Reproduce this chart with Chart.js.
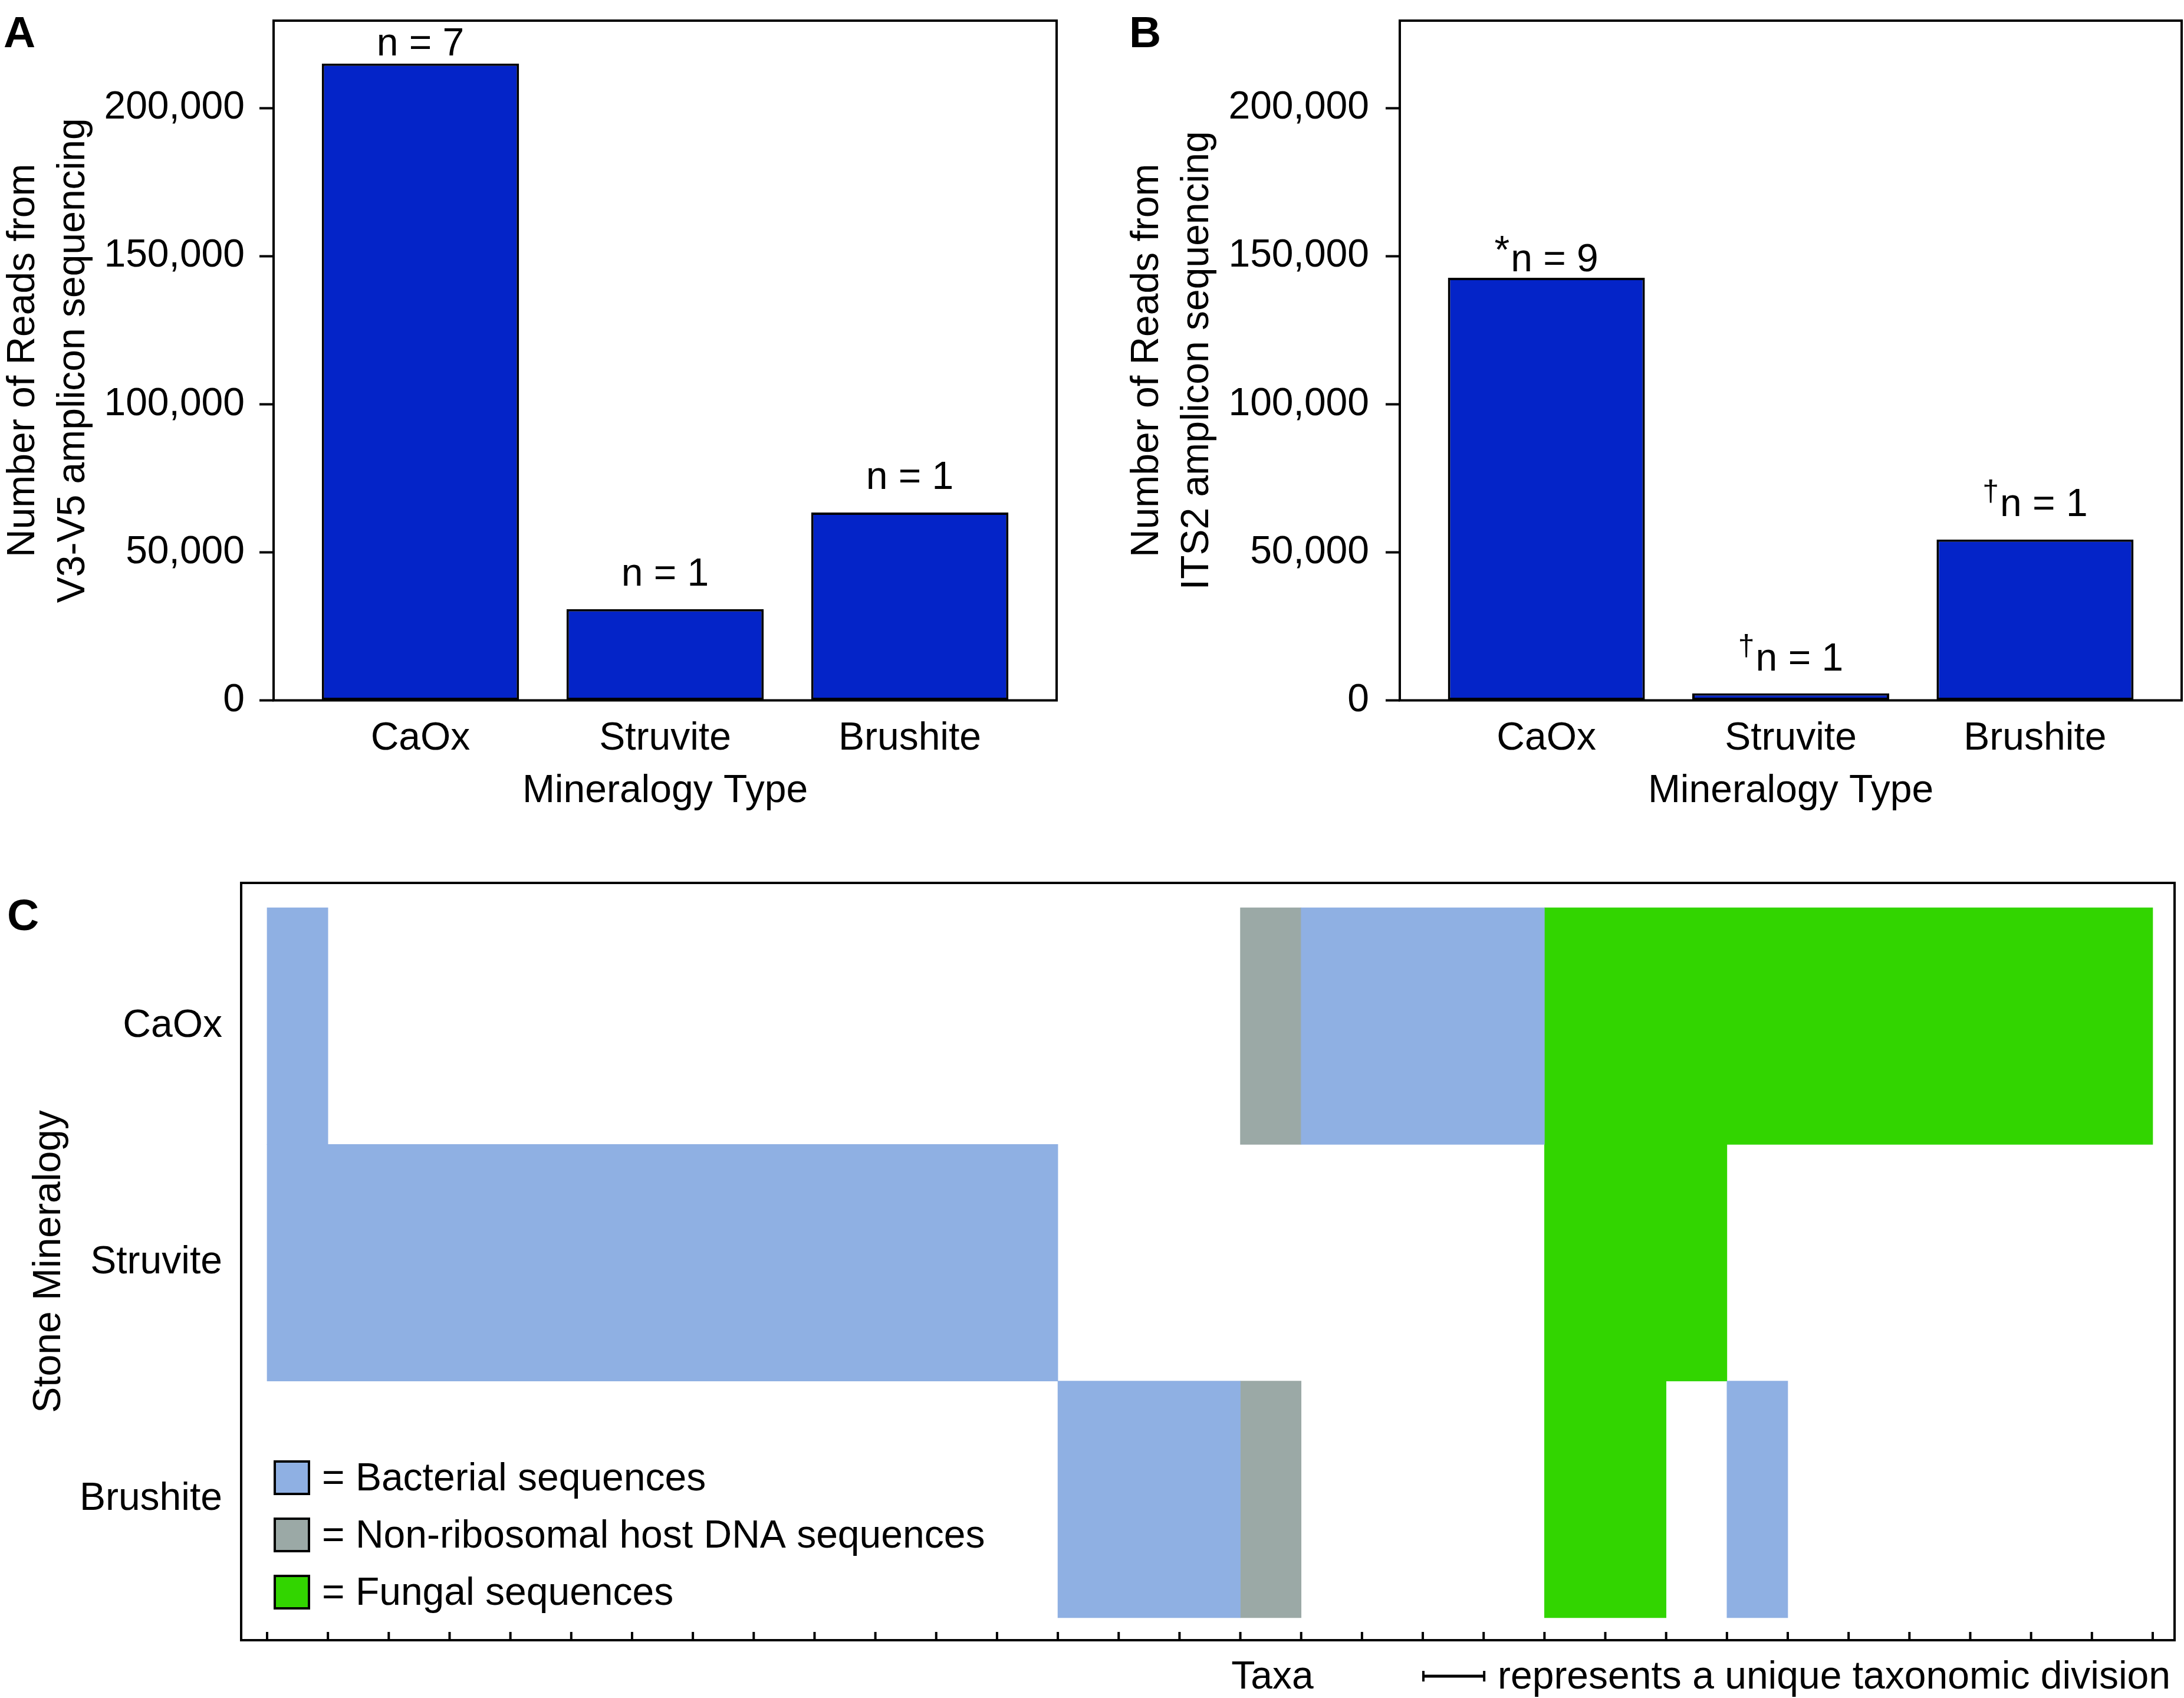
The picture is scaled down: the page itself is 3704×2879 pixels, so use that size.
<!DOCTYPE html>
<html>
<head>
<meta charset="utf-8">
<script src="https://cdn.jsdelivr.net/npm/chart.js@4.4.1/dist/chart.umd.min.js"></script>
<style>
  body { margin: 0; background: #fff; }
  #wrap { position: relative; width: 3704px; height: 2879px; background: #fff; }
  canvas { position: absolute; }
</style>
</head>
<body>
<div id="wrap">
  <canvas id="chartA" width="1850" height="1420" style="left:0;top:0"></canvas>
  <canvas id="chartB" width="1854" height="1420" style="left:1850px;top:0"></canvas>
  <canvas id="chartC" width="3704" height="1439" style="left:0;top:1440px"></canvas>
</div>
<script>
// -------------------- DATA --------------------
const minerals = ["CaOx", "Struvite", "Brushite"];

// panel A: reads from V3-V5 amplicon sequencing
const readsV3V5 = [215000, 30800, 63400];
const nV3V5 = [7, 1, 1];
const marksV3V5 = ["", "", ""];

// panel B: reads from ITS2 amplicon sequencing
const readsITS2 = [142700, 2400, 54300];
const nITS2 = [9, 1, 1];
const marksITS2 = ["*", "\u2020", "\u2020"];

const readTicks = [0, 50000, 100000, 150000, 200000];

// panel C: one code per taxon (0 = none, 1 = bacterial, 2 = host DNA, 3 = fungal)
const taxaCaOx     = [1,0,0,0,0,0,0,0,0,0,0,0,0,0,0,0,2,1,1,1,1,3,3,3,3,3,3,3,3,3,3];
const taxaStruvite = [1,1,1,1,1,1,1,1,1,1,1,1,1,0,0,0,0,0,0,0,0,3,3,3,0,0,0,0,0,0,0];
const taxaBrushite = [0,0,0,0,0,0,0,0,0,0,0,0,0,1,1,1,2,0,0,0,0,3,3,0,1,0,0,0,0,0,0];
const seqTypes = ["Bacterial sequences", "Non-ribosomal host DNA sequences", "Fungal sequences"];

// -------------------- STYLE --------------------
const FONT = '"Liberation Sans", Arial, sans-serif';
const BAR_BLUE = "#0424c8";
const seqColors = ["#8fb0e3", "#9ba9a6", "#32d500"];

Chart.defaults.font.family = FONT;
Chart.defaults.font.size = 66;
Chart.defaults.color = "#000";

// box around the plot area
const framePlugin = {
  id: "frame",
  afterDatasetsDraw(chart) {
    let a = chart.chartArea;
    let ctx = chart.ctx;
    ctx.save();
    ctx.strokeStyle = "#000";
    ctx.lineWidth = 4;
    ctx.strokeRect(a.left, a.top, a.right - a.left, a.bottom - a.top);
    ctx.restore();
  }
};

function letterPlugin(letter, x, y) {
  return {
    id: "letter",
    afterDraw(chart) {
      let ctx = chart.ctx;
      ctx.save();
      ctx.fillStyle = "#000";
      ctx.font = "bold 75px " + FONT;
      ctx.textAlign = "left";
      ctx.textBaseline = "alphabetic";
      ctx.fillText(letter, x, y);
      ctx.restore();
    }
  };
}

// "n = .." labels over the bars, with an optional superscript mark
function nLabelPlugin(ns, marks, gaps) {
  return {
    id: "nLabels",
    afterDatasetsDraw(chart) {
      let ctx = chart.ctx;
      chart.getDatasetMeta(0).data.forEach((bar, i) => {
        let main = "n = " + ns[i];
        let mk = marks[i];
        ctx.save();
        ctx.fillStyle = "#000";
        ctx.textAlign = "left";
        ctx.textBaseline = "alphabetic";

        ctx.font = "66px " + FONT;
        let wMain = ctx.measureText(main).width;

        let mkFont = mk === "*" ? "66px " + FONT : "50px " + FONT;
        let mkRaise = mk === "*" ? 14 : 26;
        ctx.font = mkFont;
        let wMark = mk ? ctx.measureText(mk).width + 2 : 0;

        let x0 = bar.x - (wMain + wMark) / 2;
        let base = bar.y - gaps[i];
        if (mk) ctx.fillText(mk, x0, base - mkRaise);

        ctx.font = "66px " + FONT;
        ctx.fillText(main, x0 + wMark, base);
        ctx.restore();
      });
    }
  };
}

// keep the label overflow from pushing the plot area around
function fixBox(s, size) {
  if (s.isHorizontal()) s.height = size;
  else s.width = size;
  s.paddingTop = 0;
  s.paddingBottom = 0;
  s.paddingLeft = 0;
  s.paddingRight = 0;
}

// -------------------- BAR PANELS --------------------
function barPanel(id, values, ns, marks, title, opt) {
  new Chart(document.getElementById(id), {
    type: "bar",
    data: {
      datasets: [{
        data: values.map((v, i) => ({ x: i, y: v })),
        backgroundColor: BAR_BLUE,
        borderColor: "#000",
        borderWidth: 4,
        borderSkipped: false,
        categoryPercentage: 0.806,
        barPercentage: 1
      }]
    },
    options: {
      responsive: false,
      animation: false,
      devicePixelRatio: 1,
      layout: { padding: { left: 0, top: 35, right: opt.right, bottom: 0 } },
      plugins: { legend: { display: false }, tooltip: { enabled: false } },
      scales: {
        x: {
          type: "linear",
          min: -0.6,
          max: 2.6,
          offset: false,
          afterBuildTicks: s => { s.ticks = minerals.map((m, i) => ({ value: i })); },
          afterFit: s => fixBox(s, 232.5),
          grid: { display: false, offset: false },
          border: { display: false },
          ticks: { callback: v => minerals[v], padding: 18, maxRotation: 0, autoSkip: false },
          title: { display: true, text: "Mineralogy Type", padding: { top: 0, bottom: 39 } }
        },
        y: {
          type: "linear",
          min: 0,
          max: 229500,
          afterBuildTicks: s => { s.ticks = readTicks.map(v => ({ value: v })); },
          afterFit: s => fixBox(s, opt.axisWidth),
          grid: { drawOnChartArea: false, drawTicks: true, tickLength: 24, tickWidth: 4, tickColor: "#000" },
          border: { display: false },
          ticks: { padding: opt.tickPad, callback: v => v.toLocaleString("en-US") },
          title: { display: true, text: title, font: { lineHeight: 1.288 }, padding: { top: opt.titlePad, bottom: 0 } }
        }
      }
    },
    plugins: [framePlugin, nLabelPlugin(ns, marks, opt.gaps), letterPlugin(opt.letter, opt.letterX, 80)]
  });
}

barPanel("chartA", readsV3V5, nV3V5, marksV3V5,
  ["Number of Reads from", "V3-V5 amplicon sequencing"],
  { right: 58, axisWidth: 464, tickPad: 25, titlePad: -3, gaps: [14, 40, 40], letter: "A", letterX: 6 });

barPanel("chartB", readsITS2, nITS2, marksITS2,
  ["Number of Reads from", "ITS2 amplicon sequencing"],
  { right: 4, axisWidth: 524, tickPad: 28, titlePad: 53, gaps: [11, 38, 40], letter: "B", letterX: 65 });

// -------------------- TAXA PANEL --------------------
const taxaRows = [taxaCaOx, taxaStruvite, taxaBrushite];

let cellSets = seqTypes.map((name, k) => ({
  label: name,
  data: [],
  backgroundColor: seqColors[k],
  borderWidth: 0,
  grouped: false,
  categoryPercentage: 1,
  barPercentage: 1
}));

// merge neighbouring taxa of the same kind into one floating bar
taxaRows.forEach((codes, r) => {
  let start = 0;
  for (let i = 1; i <= codes.length; i++) {
    if (i === codes.length || codes[i] !== codes[start]) {
      if (codes[start] > 0) cellSets[codes[start] - 1].data.push({ x: [start, i], y: r });
      start = i;
    }
  }
});

const taxaExtras = {
  id: "taxaExtras",
  afterDatasetsDraw(chart) {
    let ctx = chart.ctx;
    let a = chart.chartArea;
    let xs = chart.scales.x;
    ctx.save();

    // tick per taxon boundary, pointing into the plot
    ctx.strokeStyle = "#000";
    ctx.lineWidth = 4;
    for (let i = 0; i <= taxaCaOx.length; i++) {
      let px = xs.getPixelForValue(i);
      ctx.beginPath();
      ctx.moveTo(px, a.bottom);
      ctx.lineTo(px, a.bottom - 14);
      ctx.stroke();
    }

    // legend
    ctx.textAlign = "left";
    ctx.textBaseline = "alphabetic";
    ctx.font = "66px " + FONT;
    seqTypes.forEach((name, k) => {
      let top = 1038 + k * 97;
      ctx.fillStyle = seqColors[k];
      ctx.fillRect(466, top, 58, 55);
      ctx.lineWidth = 4;
      ctx.strokeStyle = "#000";
      ctx.strokeRect(466, top, 58, 55);
      ctx.fillStyle = "#000";
      ctx.fillText("= " + name, 546, top + 49);
    });

    // axis caption and unit marker
    ctx.fillStyle = "#000";
    ctx.textAlign = "center";
    ctx.fillText("Taxa", 2158, 1423);

    let unit = xs.getPixelForValue(1) - xs.getPixelForValue(0);
    let ux = 2414, uy = 1402;
    ctx.lineWidth = 5;
    ctx.beginPath();
    ctx.moveTo(ux, uy); ctx.lineTo(ux + unit, uy);
    ctx.stroke();
    ctx.lineWidth = 4;
    ctx.beginPath();
    ctx.moveTo(ux, uy - 9); ctx.lineTo(ux, uy + 9);
    ctx.moveTo(ux + unit, uy - 9); ctx.lineTo(ux + unit, uy + 9);
    ctx.stroke();

    ctx.textAlign = "left";
    ctx.fillText("represents a unique taxonomic division", 2540, 1423);
    ctx.restore();
  }
};

new Chart(document.getElementById("chartC"), {
  type: "bar",
  data: { datasets: cellSets },
  options: {
    indexAxis: "y",
    responsive: false,
    animation: false,
    devicePixelRatio: 1,
    layout: { padding: { left: 0, top: 57, right: 16, bottom: 0 } },
    plugins: { legend: { display: false }, tooltip: { enabled: false } },
    scales: {
      x: {
        type: "linear",
        min: -0.4265,
        max: 31.359,
        offset: false,
        afterFit: s => fixBox(s, 98),
        grid: { display: false },
        border: { display: false },
        ticks: { display: false }
      },
      y: {
        type: "linear",
        reverse: true,
        min: -0.605,
        max: 2.595,
        offset: false,
        afterBuildTicks: s => { s.ticks = minerals.map((m, i) => ({ value: i })); },
        afterFit: s => fixBox(s, 409),
        grid: { display: false, offset: false },
        border: { display: false },
        ticks: { callback: v => minerals[v], padding: 24, autoSkip: false },
        title: { display: true, text: "Stone Mineralogy", padding: { top: 44, bottom: 0 } }
      }
    }
  },
  plugins: [framePlugin, taxaExtras, letterPlugin("C", 12, 137)]
});
</script>
</body>
</html>
